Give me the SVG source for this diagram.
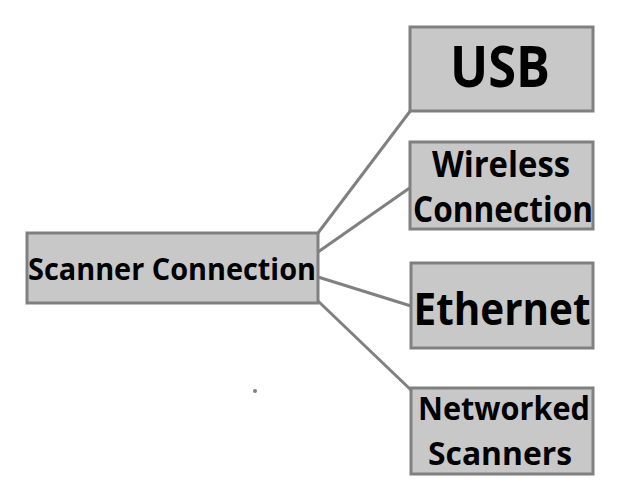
<svg xmlns="http://www.w3.org/2000/svg" width="640" height="486" viewBox="0 0 640 486">
<style>
.box{fill:#c8c8c8;stroke:#808080;stroke-width:3}
.t{font-family:"Open Sans","Noto Sans","Liberation Sans",sans-serif;font-weight:bold;fill:#000;text-anchor:middle}
.c{stroke:#808080;stroke-width:3;fill:none}
</style>
<rect width="640" height="486" fill="#fff"/>
<g id="connectors">
<line class="c" x1="318" y1="233" x2="411" y2="110"/>
<line class="c" x1="318" y1="252" x2="411" y2="187"/>
<line class="c" x1="318" y1="277" x2="411" y2="306"/>
<line class="c" x1="318" y1="301" x2="411" y2="390"/>
</g>
<g id="scanner">
<rect class="box" x="27" y="233" width="291" height="70"/>
<text class="t" x="172" y="280" font-size="30" textLength="288" lengthAdjust="spacingAndGlyphs">Scanner Connection</text>
</g>
<g id="usb">
<rect class="box" x="410" y="27" width="183" height="84"/>
<text class="t" x="500" y="87" font-size="58" textLength="100" lengthAdjust="spacingAndGlyphs">USB</text>
</g>
<g id="wireless">
<rect class="box" x="410" y="142" width="183" height="87"/>
<text class="t" x="501" y="177" font-size="35" textLength="138" lengthAdjust="spacingAndGlyphs">Wireless</text>
<text class="t" x="503" y="222" font-size="35" textLength="180" lengthAdjust="spacingAndGlyphs">Connection</text>
</g>
<g id="ethernet">
<rect class="box" x="411" y="263" width="182" height="85"/>
<text class="t" x="502" y="325" font-size="45" textLength="177" lengthAdjust="spacingAndGlyphs">Ethernet</text>
</g>
<g id="networked">
<rect class="box" x="411" y="388" width="182" height="86"/>
<text class="t" x="504" y="420" font-size="33" textLength="172" lengthAdjust="spacingAndGlyphs">Networked</text>
<text class="t" x="500" y="465" font-size="33" textLength="144" lengthAdjust="spacingAndGlyphs">Scanners</text>
</g>
<circle cx="255" cy="391" r="2" fill="#808080"/>
</svg>
